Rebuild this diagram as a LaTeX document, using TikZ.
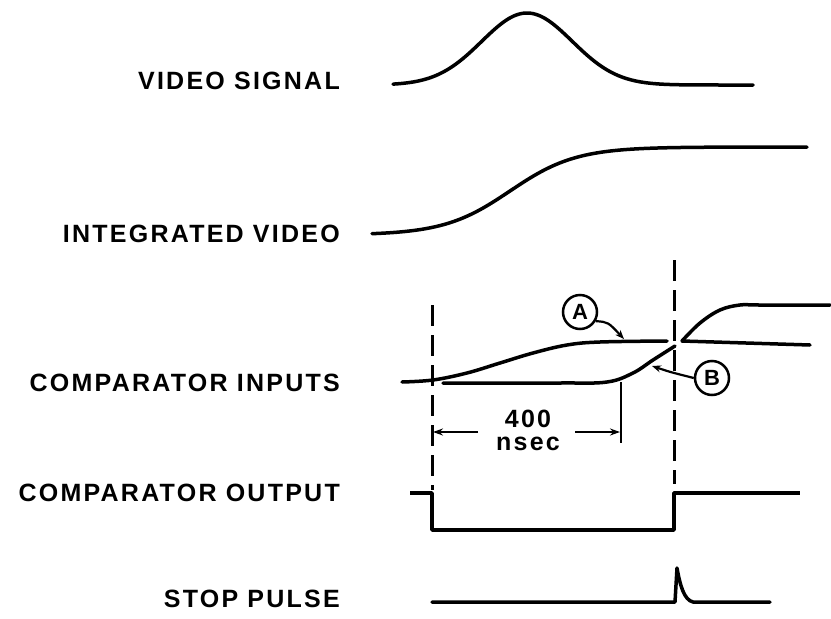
\documentclass[tikz,border=0pt]{standalone}
\usepackage{fontspec}
\setmainfont{Liberation Sans}
\newfontfamily\lblfont[LetterSpace=9]{Liberation Sans}
\usetikzlibrary{arrows.meta}
\begin{document}
\begin{tikzpicture}[x=1pt,y=-1pt,
  sig/.style={line width=3.5pt, line cap=round, line join=round},
  guide/.style={line width=3pt, dash pattern=on 21pt off 9pt},
  lbl/.style={font=\lblfont\bfseries\fontsize{25}{25}\selectfont, anchor=base east, inner sep=0pt},
  tag/.style={circle, draw, line width=2.5pt, minimum size=34pt, inner sep=0pt, font=\bfseries\fontsize{22}{22}\selectfont},
  lead/.style={line width=2.2pt, -{Stealth[length=9pt,width=7pt]}},
  dim/.style={line width=2.5pt, -{Stealth[length=10pt,width=7pt]}},
  num/.style={font=\lblfont\bfseries\fontsize{25}{25}\selectfont, inner sep=0pt, anchor=base},
]
\useasboundingbox (0,0) rectangle (831,619);

% labels
\node[lbl] (l1) at (340,89)  {VIDEO SIGNAL};
\node[lbl] (l2) at (340,242) {INTEGRATED VIDEO};
\node[lbl] (l3) at (340,391) {COMPARATOR INPUTS};
\node[lbl] (l4) at (340,501) {COMPARATOR OUTPUT};
\node[lbl] (l5) at (340,607) {STOP PULSE};

% video signal
\draw[sig] plot[domain=393:753, samples=150] (\x, {85-72*exp(-((\x-527)/64)^2)});

% integrated video
\draw[sig] plot[domain=372:807, samples=150] (\x, {191-44*tanh((\x-510)/66)});

% comparator inputs: A
\draw[sig] plot[smooth, tension=0.6] coordinates {(402,382) (433,380) (467,373) (500,363) (533,353) (567,345) (600,342) (667,341)};
\draw[sig] (682,341) -- (810,345);
\draw[sig] plot[smooth, tension=0.6] coordinates {(682,341) (700,323) (720,310) (740,305) (760,305) (830,305)};
% B
\draw[sig] plot[smooth, tension=0.6] coordinates {(443,383) (560,383) (607,382) (633,373) (653,360) (675,346)};

% tags
\node[tag] (A) at (580,312) {A};
\node[tag] (B) at (712,378) {B};
\coordinate (At) at (624,339);
\coordinate (Bt) at (652,366);
\draw[lead] (A.-30) .. controls (608,322) .. (At);
\draw[lead] (B.west) .. controls (670,372) .. (Bt);

% dashed guides
\draw[guide] (432,305) -- (432,490);
\draw[guide] (674,260) -- (674,484);

% dimension
\draw[line width=2.5pt] (621,382) -- (621,443);
\node[num] (n400) at (528,427) {400};
\node[num] (nsec) at (528,450) {nsec};
\coordinate (dl) at (433,432);
\coordinate (dr) at (620,432);
\draw[dim] (478,432) -- (dl);
\draw[dim] (575,432) -- (dr);

% comparator output
\draw[sig, line cap=butt] (410,493) -- (432,493) -- (432,530) -- (674,530) -- (674,493) -- (800,493);

% stop pulse
\draw[sig] (432,602) -- (675,602) -- (677,568) .. controls (680,585) and (684,600) .. (693,602) -- (770,602);
\end{tikzpicture}
\end{document}
